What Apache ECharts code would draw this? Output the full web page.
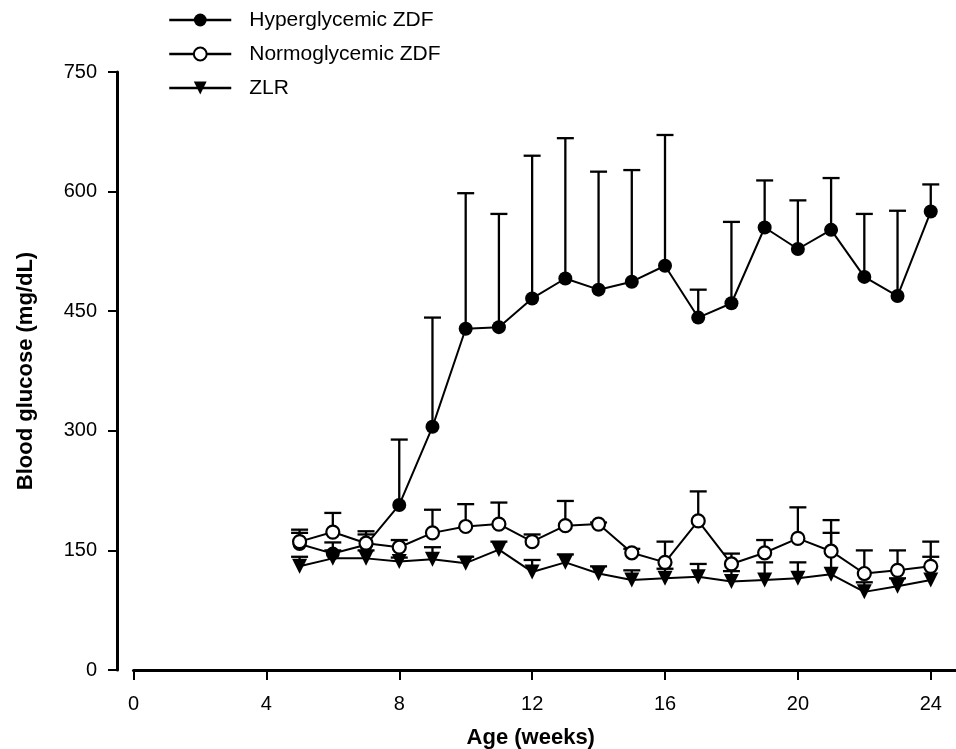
<!DOCTYPE html>
<html>
<head>
<meta charset="utf-8">
<script src="https://cdn.jsdelivr.net/npm/echarts@6/dist/echarts.min.js"></script>
<style>
html,body{margin:0;padding:0;background:#fff;}
#chart{width:956px;height:749px;}
</style>
</head>
<body>
<div id="chart"></div>
<script>
const weeks = [5,6,7,8,9,10,11,12,13,14,15,16,17,18,19,20,21,22,23,24];
const hyperMean = [158,146,157,207,305,428,430,466,491,477,487,507,442,460,555,528,552,493,469,575];
const hyperTop  = [176,160,170,289,442,598,572,645,667,625,627,671,477,562,614,589,617,572,576,609];
const normoMean = [161,173,159,154,172,180,183,161,181,183,147,135,187,133,147,165,149,121,125,130];
const normoTop  = [172,197,174,163,201,208,210,170,212,185,152,161,224,146,163,204,188,150,150,161];
const zlrMean   = [130,140,140,136,139,134,151,123,135,121,113,115,117,111,113,115,120,98,105,113];
const zlrTop    = [142,150,150,141,154,142,161,138,145,130,125,127,133,124,135,135,172,110,115,142];
const xTicks = [0,4,8,12,16,20,24];
const yTicks = [0,150,300,450,600,750];
const seriesNames = ['Hyperglycemic ZDF','Normoglycemic ZDF','ZLR'];

const FONT = "'Liberation Sans', Arial, sans-serif";
const chart = echarts.init(document.getElementById('chart'), null, {renderer:'canvas'});

function errSeries(name, mean, top) {
  return {
    type: 'custom',
    name: name,
    silent: true,
    z: 1,
    encode: {x: 0, y: [1, 2]},
    data: weeks.map((w, i) => [w, mean[i], top[i]]),
    renderItem: function (params, api) {
      const p0 = api.coord([api.value(0), api.value(1)]);
      const p1 = api.coord([api.value(0), api.value(2)]);
      const hw = 8.5;
      return {
        type: 'group',
        children: [
          {type: 'line', shape: {x1: p0[0], y1: p0[1], x2: p1[0], y2: p1[1]}, style: {stroke: '#000', lineWidth: 2.3}},
          {type: 'line', shape: {x1: p1[0] - hw, y1: p1[1], x2: p1[0] + hw, y2: p1[1]}, style: {stroke: '#000', lineWidth: 2.3}}
        ]
      };
    }
  };
}

const option = {
  animation: false,
  backgroundColor: '#fff',
  textStyle: {fontFamily: FONT, color: '#000'},
  grid: {left: 133.5, right: 0, top: 72, bottom: 79, containLabel: false, outerBoundsMode: 'none'},
  legend: {
    data: seriesNames,
    orient: 'vertical',
    left: 168,
    top: 9.5,
    padding: 0,
    itemWidth: 62,
    itemHeight: 16,
    itemGap: 13,
    selectedMode: false,
    lineStyle: {width: 2.5, color: '#000'},
    textStyle: {fontFamily: FONT, fontSize: 21, color: '#000', padding: [0, 0, 0, 13]}
  },
  xAxis: {
    type: 'value',
    min: 0,
    max: 24.76,
    axisLine: {show: true, onZero: false, lineStyle: {color: '#000', width: 3}},
    axisTick: {show: true, customValues: xTicks, length: 10, lineStyle: {color: '#000', width: 2}},
    axisLabel: {customValues: xTicks, fontSize: 20, margin: 24, color: '#000', fontFamily: FONT},
    splitLine: {show: false},
    name: 'Age (weeks)',
    nameLocation: 'middle',
    nameGap: 57,
    nameTextStyle: {fontFamily: FONT, fontSize: 22, fontWeight: 'bold', color: '#000', padding: [0, 28, 0, 0]}
  },
  yAxis: {
    type: 'value',
    min: 0,
    max: 750,
    interval: 150,
    offset: 16.5,
    axisLine: {show: true, onZero: false, lineStyle: {color: '#000', width: 3}},
    axisTick: {show: true, customValues: yTicks, length: 9, lineStyle: {color: '#000', width: 2}},
    axisLabel: {customValues: yTicks, fontSize: 20, margin: 20, color: '#000', fontFamily: FONT},
    splitLine: {show: false},
    name: 'Blood glucose (mg/dL)',
    nameLocation: 'middle',
    nameGap: 80,
    nameRotate: 90,
    nameTextStyle: {fontFamily: FONT, fontSize: 22, fontWeight: 'bold', color: '#000'}
  },
  series: [
    errSeries('zlrErr', zlrMean, zlrTop),
    errSeries('hyperErr', hyperMean, hyperTop),
    errSeries('normoErr', normoMean, normoTop),
    {
      type: 'line', name: seriesNames[2], z: 2,
      data: weeks.map((w, i) => [w, zlrMean[i]]),
      symbol: 'triangle', symbolRotate: 180, symbolSize: 15,
      itemStyle: {color: '#000'},
      lineStyle: {color: '#000', width: 2}
    },
    {
      type: 'line', name: seriesNames[0], z: 3,
      data: weeks.map((w, i) => [w, hyperMean[i]]),
      symbol: 'circle', symbolSize: 14,
      itemStyle: {color: '#000'},
      lineStyle: {color: '#000', width: 2}
    },
    {
      type: 'line', name: seriesNames[1], z: 4,
      data: weeks.map((w, i) => [w, normoMean[i]]),
      symbol: 'circle', symbolSize: 13,
      itemStyle: {color: '#fff', borderColor: '#000', borderWidth: 2.2},
      lineStyle: {color: '#000', width: 2}
    }
  ]
};
chart.setOption(option);
</script>
</body>
</html>
